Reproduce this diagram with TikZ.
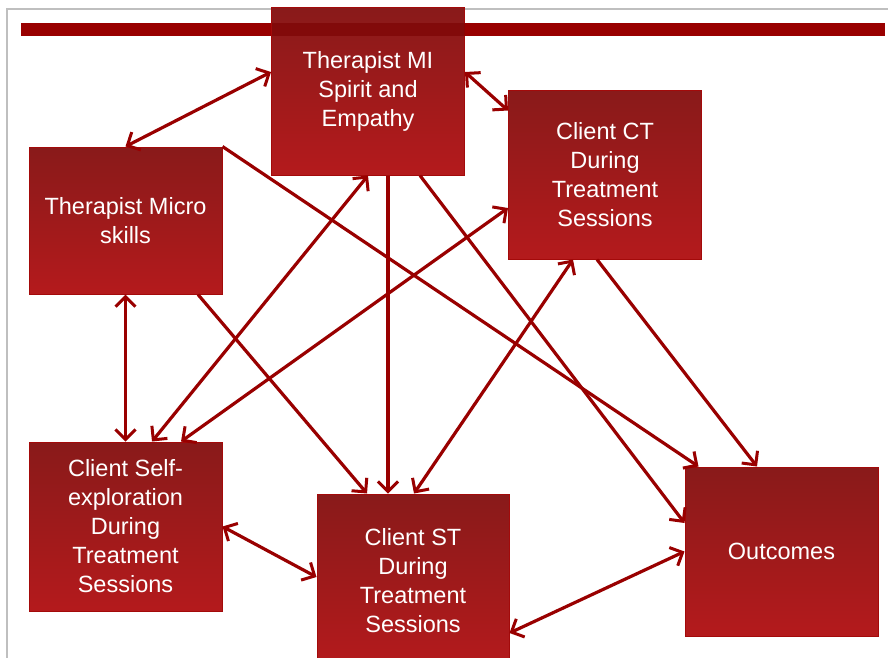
\documentclass[tikz,border=0pt]{standalone}
\usepackage{fontspec}
\setmainfont{Liberation Sans}
\usetikzlibrary{arrows.meta}
\definecolor{arrowred}{HTML}{990000}
\definecolor{boxtop}{HTML}{891A1A}
\definecolor{boxbot}{HTML}{B41A1C}
\definecolor{boxedge}{HTML}{A30A0A}
\tikzset{
  box/.style={rectangle, top color=boxtop, bottom color=boxbot, draw=boxedge, line width=1pt,
    text=white, align=center, inner sep=0pt,
    font=\fontsize{23.5}{29}\selectfont},
  link/.style={draw=arrowred, line width=3.2pt},
  tipr/.style={-{Straight Barb[length=10pt,width=20pt,line width=3pt]}},
  tipb/.style={{Straight Barb[length=10pt,width=20pt,line width=3pt]}-{Straight Barb[length=10pt,width=20pt,line width=3pt]}}
}
\begin{document}
\begin{tikzpicture}[x=1pt,y=-1pt]
\useasboundingbox (0,0) rectangle (888,657);
\clip (0,0) rectangle (888,657);
\fill[white] (0,0) rectangle (888,657);
% frame
\draw[black!25, line width=1.2pt] (7,670) -- (7,9) -- (900,9);
% top bar
\fill[arrowred] (21,23) rectangle (885,36);
% boxes
\node[box, minimum width=193pt, minimum height=168pt] (mi) at (368,91) {Therapist MI\\Spirit and\\Empathy};
\node[box, minimum width=193pt, minimum height=169pt] (ct) at (605,174.5) {Client CT\\During\\Treatment\\Sessions};
\node[box, minimum width=193pt, minimum height=147pt] (micro) at (125.5,220.5) {Therapist Micro\\skills};
\node[box, minimum width=193pt, minimum height=169pt] (self) at (125.5,526.5) {Client Self-\\exploration\\During\\Treatment\\Sessions};
\node[box, minimum width=192pt, minimum height=173pt] (st) at (413,580.5) {Client ST\\During\\Treatment\\Sessions};
\node[box, minimum width=193pt, minimum height=169pt] (out) at (781.5,551.5) {Outcomes};
% darker overlap of bar and top box
\fill[arrowred!80!black, opacity=0.6] (272,23) rectangle (464.5,36);
% connectors
\draw[link,tipb] ([yshift=19pt]mi.west) -- (micro.north);
\draw[link,tipb] ([yshift=19pt]mi.east) -- ([yshift=64pt]ct.west);
\draw[link,tipb] (micro.south) -- (self.north);
\draw[link,tipb] (self.east) -- ([yshift=3.5pt]st.west);
\draw[link,tipb] ([yshift=-52.5pt]st.east) -- (out.west);
\draw[link,tipb] ([xshift=26.5pt]self.north) -- (mi.south);
\draw[link,tipb] ([xshift=55.5pt]self.north) -- ([yshift=-33.5pt]ct.west);
\draw[link,tipr] ([xshift=72.5pt]micro.south) -- ([xshift=-46pt]st.north);
\draw[link,tipr] ([xshift=20pt]mi.south) -- ([xshift=-25pt]st.north);
\draw[link,tipb] ([xshift=-32pt]ct.south) -- ([xshift=1pt]st.north);
\draw[link,tipr] (micro.north east) -- ([xshift=-83pt]out.north);
\draw[link,tipr] ([xshift=52pt]mi.south) -- ([yshift=28.5pt]out.west);
\draw[link,tipr] ([xshift=-8pt]ct.south) -- ([xshift=-24.5pt]out.north);
\end{tikzpicture}
\end{document}
